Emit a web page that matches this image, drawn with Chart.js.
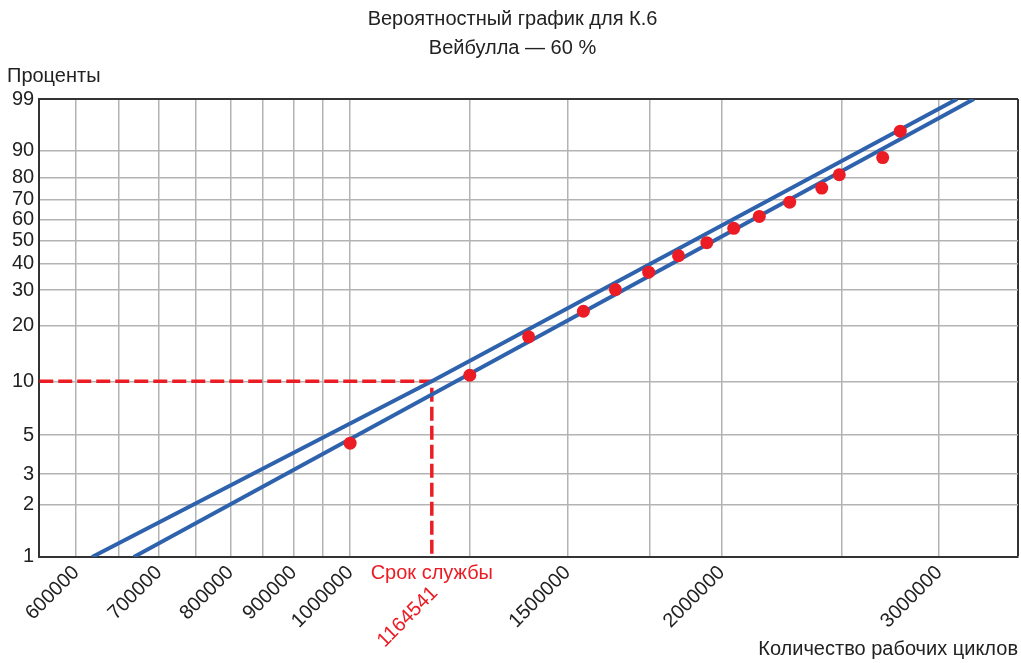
<!DOCTYPE html>
<html lang="ru">
<head>
<meta charset="utf-8">
<title>Вероятностный график для К.6</title>
<script src="https://cdn.jsdelivr.net/npm/chart.js@4.4.1/dist/chart.umd.min.js"></script>
<style>
  html, body { margin: 0; padding: 0; background: #fff; }
  #wrap { width: 1021px; height: 663px; }
</style>
</head>
<body>
<div id="wrap"><canvas id="weibullChart"></canvas></div>
<script>
/* ---------- Weibull probability plot, K.6 ---------- */

var xMin = 560000;
var xMax = 3475000;
var xGrid = [600000, 650000, 700000, 750000, 800000, 850000, 900000, 950000, 1000000,
             1250000, 1500000, 1750000, 2000000, 2500000, 3000000, xMax];
var xLabeled = [600000, 700000, 800000, 900000, 1000000, 1500000, 2000000, 3000000];
var pctTicks = [1, 2, 3, 5, 10, 20, 30, 40, 50, 60, 70, 80, 90, 99];

// failures: cycles and plotting position, %
var cycles = [1000000, 1250000, 1395000, 1545000, 1640000, 1745000, 1845000, 1945000,
              2045000, 2145000, 2270000, 2410000, 2490000, 2700000, 2790000];
var failPct = [4.5, 10.8, 17.4, 23.6, 30.2, 36.5, 43.2, 49.0, 55.8, 61.6, 68.6, 75.3, 81.2, 87.8, 95.0];

// lower bound line and fitted line
var boundCycles = [618000, 1164541, 3102000];
var boundPct = [1, 10, 99];
var fitCycles = [668000, 3201000];
var fitPct = [1, 99];

// service life at 10 %
var lifeCycles = 1164541;
var lifePct = 10;

var red = "#ec1c24";
var blue = "#2e62ad";
var ink = "#222222";

Chart.defaults.font.family = "'Liberation Sans', Arial, sans-serif";
Chart.defaults.font.size = 20;
Chart.defaults.color = ink;

// y axis in Weibull coordinates: ln(-ln(1 - p))
function weib(p) {
  return Math.log(-Math.log(1 - p / 100));
}

class WeibullScale extends Chart.LinearScale {
  determineDataLimits() {
    this.min = this.options.min;
    this.max = this.options.max;
  }
  buildTicks() {
    return pctTicks.map(function (v) { return { value: v }; });
  }
  configure() {
    super.configure();
    this._wMin = weib(this.min);
    this._wMax = weib(this.max);
  }
  getPixelForValue(v) {
    return this.getPixelForDecimal((weib(v) - this._wMin) / (this._wMax - this._wMin));
  }
  getValueForPixel(px) {
    var w = this._wMin + this.getDecimalForPixel(px) * (this._wMax - this._wMin);
    return 100 * (1 - Math.exp(-Math.exp(w)));
  }
}
WeibullScale.id = "weibull";
WeibullScale.defaults = { ticks: { callback: function (v) { return String(v); } } };
Chart.register(WeibullScale);

function pairs(xs, ys) {
  return xs.map(function (x, i) { return { x: x, y: ys[i] }; });
}

// red text under the axis for the service life value
var lifeLabels = {
  id: "lifeLabels",
  afterDraw: function (chart) {
    var ctx = chart.ctx;
    var x = chart.scales.x.getPixelForValue(lifeCycles);
    var bottom = chart.chartArea.bottom;
    ctx.save();
    ctx.fillStyle = red;
    ctx.font = "20px 'Liberation Sans', Arial, sans-serif";
    ctx.textAlign = "center";
    ctx.textBaseline = "middle";
    ctx.fillText("Срок службы", x, bottom + 17);
    ctx.translate(x + 3, bottom + 33);
    ctx.rotate(-Math.PI / 4);
    ctx.textAlign = "right";
    ctx.fillText(String(lifeCycles), 0, 0);
    ctx.restore();
  }
};

new Chart("weibullChart", {
  type: "scatter",
  data: {
    datasets: [
      {
        data: pairs(cycles, failPct),
        backgroundColor: red,
        borderWidth: 0,
        pointRadius: 6.5,
        pointHoverRadius: 6.5,
        order: 0
      },
      {
        data: pairs(boundCycles, boundPct),
        showLine: true,
        borderColor: blue,
        borderWidth: 4,
        pointRadius: 0,
        order: 1
      },
      {
        data: pairs(fitCycles, fitPct),
        showLine: true,
        borderColor: blue,
        borderWidth: 4,
        pointRadius: 0,
        order: 1
      },
      {
        data: [{ x: xMin, y: lifePct }, { x: lifeCycles, y: lifePct }, { x: lifeCycles, y: 1 }],
        showLine: true,
        borderColor: red,
        borderWidth: 3.5,
        borderDash: [14, 5],
        pointRadius: 0,
        order: 2
      }
    ]
  },
  options: {
    responsive: true,
    maintainAspectRatio: false,
    animation: false,
    layout: { autoPadding: false, padding: { left: 7, right: 3, top: 0, bottom: 2 } },
    plugins: {
      legend: { display: false },
      tooltip: { enabled: false },
      title: {
        display: true,
        text: ["Вероятностный график для К.6", "Вейбулла — 60 %"],
        font: { size: 20, weight: "normal", lineHeight: 1.45 },
        color: ink,
        padding: { top: 5, bottom: 0 }
      },
      subtitle: {
        display: true,
        text: "Проценты",
        align: "start",
        font: { size: 20, lineHeight: 1.2 },
        color: ink,
        padding: { top: 1, bottom: 11 }
      }
    },
    scales: {
      x: {
        type: "logarithmic",
        min: xMin,
        max: xMax,
        afterBuildTicks: function (axis) {
          axis.ticks = xGrid.map(function (v) { return { value: v }; });
        },
        // the blank label at the right edge should not reserve space
        afterFit: function (axis) {
          axis.paddingRight = 0;
        },
        ticks: {
          autoSkip: false,
          minRotation: 45,
          maxRotation: 45,
          padding: 4,
          color: ink,
          callback: function (v) { return xLabeled.indexOf(v) >= 0 ? String(v) : ""; }
        },
        grid: {
          drawTicks: false,
          color: function (c) { return c.tick && c.tick.value === xMax ? "#333" : "#b3b3b3"; },
          lineWidth: function (c) { return c.tick && c.tick.value === xMax ? 2 : 1.5; }
        },
        border: { color: "#333", width: 2 },
        title: {
          display: true,
          text: "Количество рабочих циклов",
          align: "end",
          color: ink,
          font: { size: 20 },
          padding: { top: 0, bottom: 0 }
        }
      },
      y: {
        type: "weibull",
        min: 1,
        max: 99,
        ticks: { autoSkip: false, padding: 5, color: ink },
        grid: {
          drawTicks: false,
          color: function (c) { return c.tick && c.tick.value === 99 ? "#333" : "#b3b3b3"; },
          lineWidth: function (c) { return c.tick && c.tick.value === 99 ? 2 : 1.5; }
        },
        border: { color: "#333", width: 2 }
      }
    }
  },
  plugins: [lifeLabels]
});
</script>
</body>
</html>
